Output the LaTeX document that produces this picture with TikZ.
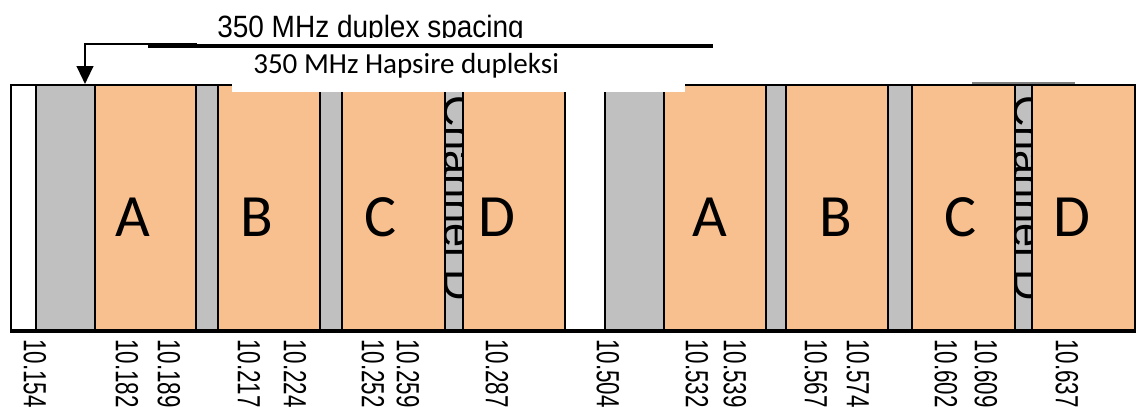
\documentclass[tikz,border=0pt]{standalone}
\usepackage{fontspec}
\setmainfont{Liberation Sans}
\newfontfamily\calibri{Carlito}
\usetikzlibrary{arrows.meta}
\definecolor{bandorange}{RGB}{249,192,143}
\definecolor{bandgray}{RGB}{192,192,192}
\begin{document}
\begin{tikzpicture}[x=0.75pt,y=-0.75pt,
    band/.style={draw=black,line width=1.8pt},
    letter/.style={font=\calibri\fontsize{45}{45}\selectfont,inner sep=0pt},
    freq/.style={rotate=-90,anchor=west,xscale=0.7,inner sep=0pt,
        font=\fontsize{24}{24}\selectfont}]
\useasboundingbox (0,0) rectangle (1136,407);

% ===== Bands (cells) =====
\foreach \a/\b/\c in {11/36/white,36/95/bandgray,95/196/bandorange,196/218/bandgray,
    218/320/bandorange,320/342/bandgray,342/445/bandorange,445/463/bandgray,
    463/565/bandorange,565/605/white,605/664/bandgray,664/766/bandorange,
    766/786/bandgray,786/888/bandorange,888/912/bandgray,912/1015/bandorange,
    1015/1032/bandgray,1032/1135/bandorange} {
    \draw[band,fill=\c] (\a,85) rectangle (\b,331);
}
\draw[line width=3pt] (10,331) -- (1136,331);
\draw[gray,line width=0.8pt] (972,83) -- (1075,83);

% ===== Channel label (clipped in the narrow strips) =====
\foreach \s in {445,1015} {
    \begin{scope}
        \clip (\s+1,86) rectangle (\s+17,330);
        \node[rotate=-90,anchor=base west,inner sep=0pt,
            font=\fontsize{32.6}{32.6}\selectfont] (ch\s) at (\s-1,95) {Channel D};
    \end{scope}
}

% ===== Letters =====
\foreach \l/\x in {A/133,B/257,C/380,D/497,A/710,B/836,C/960,D/1072} {
    \node[letter] (\l\x) at (\x,217) {\l};
}

% ===== Frequencies =====
\foreach \f/\x in {10.154/35,10.182/127,10.189/169,10.217/249,10.224/295,
    10.252/373,10.259/408,10.287/497,10.504/608,10.532/697,10.539/735,
    10.567/816,10.574/858,10.602/946,10.609/986,10.637/1067} {
    \node[freq] (lbl\x) at (\x,339) {\f};
}

% ===== Duplex spacing =====
\fill[white] (232,50) rectangle (685,92);
\begin{scope}
    \clip (200,0) rectangle (540,37);
    \node[anchor=base west,inner sep=0pt,yscale=1.1,font=\fontsize{21}{21}\selectfont]
        (spacing) at (217,37) {350 MHz duplex spacing};
\end{scope}
\node[anchor=base west,inner sep=0pt,font=\calibri\fontsize{21.8}{21.8}\selectfont]
    (hapsire) at (253,73) {350 MHz Hapsire dupleksi};
\coordinate (thinend) at (197,44);
\coordinate (turn) at (85,44);
\coordinate (tip) at (85,84);
\draw[line width=1.6pt,-{Triangle[width=12.5pt,length=13.5pt]}] (thinend) -- (turn) -- (tip);
\coordinate (thickstart) at (148,46);
\coordinate (thickend) at (713,46);
\draw[line width=3.2pt] (thickstart) -- (thickend);

\end{tikzpicture}
\end{document}
